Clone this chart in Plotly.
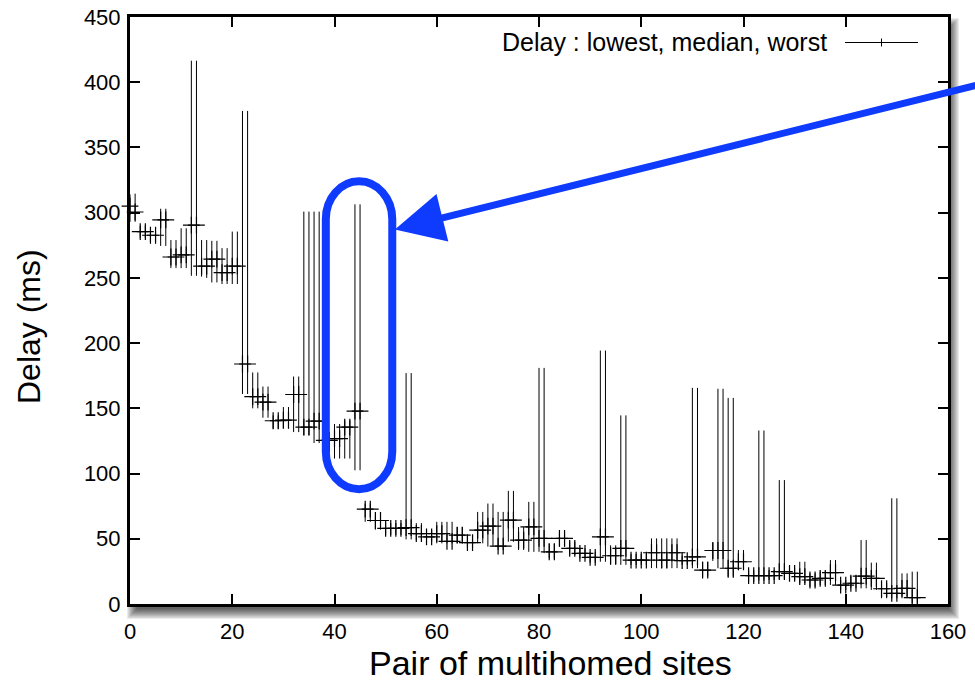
import plotly.graph_objects as go

# ---------------- data ----------------
pair_index = list(range(155))

delay_lowest = [
    293, 293, 281, 281, 278, 278, 274.5, 274.5, 257.5, 257.5,
    257.5, 257.5, 251.6, 251.6, 251, 250, 246.5, 246.5, 245.3, 245.3,
    245.3, 245.3, 161, 161, 150, 150, 142.8, 142.8, 134.4, 134.4,
    134.4, 134.4, 131.8, 131.8, 129.3, 129.3, 123.4, 123.4, 116.5, 116.5,
    111.5, 111.5, 111.5, 111.5, 102.5, 102.5, 63, 63, 57, 57,
    53, 53, 53, 53, 49.5, 49.5, 49, 49, 47.7, 47.7,
    46.5, 46.5, 46.5, 46.5, 46.5, 46.5, 42.7, 42.7, 46.5, 46.5,
    44, 44, 41.4, 41.4, 47.7, 47.7, 41.4, 41.4, 40, 40,
    40, 39, 35, 35, 44, 44, 37.5, 37.5, 35, 35,
    31.7, 31.7, 32.4, 32.4, 30, 30, 30, 30, 30, 30,
    30, 30, 27.5, 27.5, 27.5, 27.5, 27.5, 27.5, 30, 30,
    27.4, 27.4, 21, 21, 33, 27.4, 27.4, 20, 20, 26,
    26, 17, 17, 18, 18, 18.4, 18.4, 19.2, 19.2, 18,
    18, 15.9, 15.9, 13.3, 13.3, 14.6, 14.6, 14.6, 14.6, 10.8,
    10.8, 12, 12, 12, 12, 10.8, 10.8, 4.4, 4.4, 4.4,
    4.4, 4.4, 4.4, 0.6, 0.6,
]

delay_median = [
    305, 300.5, 285.5, 285.5, 282.7, 282.7, 294.4, 294.4, 266, 266,
    267.6, 267.6, 290.4, 290.4, 259, 259, 264.4, 264.4, 254, 254,
    259, 259, 184, 184, 159, 159, 154.7, 154.7, 140.5, 140.5,
    141, 141, 160.6, 160.6, 135.6, 135.6, 140.2, 140.2, 125.5, 125.5,
    126.8, 126.8, 135.6, 135.6, 147.9, 147.9, 72.7, 72.7, 64, 64,
    58, 58, 58, 58, 58.5, 58.5, 54, 54, 51.5, 51.5,
    54, 54, 48, 48, 52.8, 52.8, 47, 47, 56.7, 56.7,
    59.7, 59.7, 44.4, 44.4, 64.3, 64.3, 49, 49, 59.2, 59.2,
    50.3, 50.3, 40, 40, 50.3, 50.3, 42.7, 42.7, 38.8, 38.8,
    35.8, 35.8, 51.5, 51.5, 37, 37, 42.7, 42.7, 33.7, 33.7,
    33.7, 33.7, 39.3, 39.3, 33.7, 33.7, 39.3, 39.3, 33.2, 33.2,
    36.2, 36.2, 26, 26, 41, 41, 41, 27.4, 27.4, 32.4,
    32.4, 21.7, 21.7, 21.7, 21.7, 21.7, 21.7, 24.8, 24.8, 23.5,
    23.5, 21, 21, 18.4, 18.4, 19.7, 19.7, 24, 24, 14.4,
    14.4, 15.9, 15.9, 21.3, 21.3, 19.7, 19.7, 11.7, 11.7, 8.2,
    8.2, 12, 12, 4.9, 4.9,
]

delay_worst = [
    314, 314.6, 290, 290, 286, 286, 303, 303, 279, 279,
    288, 288, 416.5, 416.5, 279, 279, 278.4, 278.4, 272.8, 272.8,
    285.5, 285.5, 378, 378, 177.5, 177.5, 166.7, 166.7, 144.6, 144.6,
    151, 151, 174.4, 174.4, 300.8, 300.8, 300.8, 300.8, 131.8, 131.8,
    138, 138, 140.7, 140.7, 306.4, 306.4, 77, 77, 68, 67,
    62, 62, 62, 62, 177, 177, 62, 62, 56.6, 56.6,
    63, 63, 63, 63, 59, 59, 52.8, 52.8, 70.6, 70.6,
    77, 77, 70.6, 70.6, 86.7, 86.7, 59, 59, 78.3, 78.3,
    181, 181, 46.5, 46.5, 54.6, 54.6, 47.7, 47.7, 42.7, 42.7,
    40, 40, 194.3, 194.3, 45, 45, 144.6, 144.6, 38.3, 38.3,
    38.3, 38.3, 50.3, 50.3, 50.3, 50.3, 50.3, 50.3, 37, 37,
    165.7, 165.7, 32.4, 32.4, 47, 165, 165, 158, 158, 41.4,
    41.4, 26, 26, 133, 133, 26, 26, 95, 95, 27.6,
    27.6, 32.4, 32.4, 23.5, 23.5, 25, 25, 33.7, 33.7, 18.4,
    18.4, 21.5, 21.5, 49, 49, 31.7, 31.7, 15.9, 15.9, 81,
    81, 23.5, 23.5, 24.8, 24.8,
]

x_ticks = [0, 20, 40, 60, 80, 100, 120, 140, 160]
y_ticks = [0, 50, 100, 150, 200, 250, 300, 350, 400, 450]

x_title = "Pair of multihomed sites"
y_title = "Delay (ms)"
legend_label = "Delay : lowest, median, worst"

# ---------------- styling / layout constants ----------------
W, H = 975, 684
L, R, T, B = 130, 948, 17, 604
FONT = "Liberation Sans, Arial, Helvetica, sans-serif"
BLUE = "#0f3bff"


def px(xp):
    return (xp - L) / (R - L)


def py(yp):
    return (B - yp) / (B - T)


err_plus = [w - m for w, m in zip(delay_worst, delay_median)]
err_minus = [m - lo for m, lo in zip(delay_median, delay_lowest)]

fig = go.Figure()
fig.add_trace(go.Scatter(
    x=pair_index,
    y=delay_median,
    mode="markers",
    marker=dict(symbol="cross-thin", size=12, color="black",
                line=dict(width=1.2, color="black")),
    error_y=dict(type="data", symmetric=False, array=err_plus,
                 arrayminus=err_minus, thickness=1, width=0, color="black"),
    showlegend=False,
    cliponaxis=False,
    hoverinfo="skip",
))

shapes = []
# soft drop shadow below/right of the plot frame
for k in range(11):
    e = k - 3
    shapes.append(dict(
        type="rect", xref="paper", yref="paper", layer="below",
        x0=px(L + 4 - e), x1=px(R + 4 + e),
        y0=py(B + 8 + e), y1=py(T + 8 - e),
        line=dict(width=0), fillcolor="rgba(0,0,0,0.08)",
    ))
shapes.append(dict(
    type="rect", xref="paper", yref="paper", layer="below",
    x0=0, x1=1, y0=0, y1=1, line=dict(width=0), fillcolor="white",
))

# highlight pill (data coordinates)
xl, xr, yt, yb = 38.3, 51.3, 324.0, 88.0
rx = (xr - xl) / 2
ry = 29.0
xc = xl + rx
k_ = 0.5523
path = (
    f"M {xl},{yb + ry} L {xl},{yt - ry} "
    f"C {xl},{yt - ry + k_ * ry} {xc - k_ * rx},{yt} {xc},{yt} "
    f"C {xc + k_ * rx},{yt} {xr},{yt - ry + k_ * ry} {xr},{yt - ry} "
    f"L {xr},{yb + ry} "
    f"C {xr},{yb + ry - k_ * ry} {xc + k_ * rx},{yb} {xc},{yb} "
    f"C {xc - k_ * rx},{yb} {xl},{yb + ry - k_ * ry} {xl},{yb + ry} Z"
)
shapes.append(dict(type="path", xref="x", yref="y", path=path,
                   line=dict(color=BLUE, width=8), layer="above"))

# legend sample (line with a small tick)
shapes.append(dict(type="line", xref="paper", yref="paper",
                   x0=px(845), x1=px(918), y0=py(42.5), y1=py(42.5),
                   line=dict(color="black", width=1)))
shapes.append(dict(type="line", xref="paper", yref="paper",
                   x0=px(881.5), x1=px(881.5), y0=py(38.5), y1=py(46.5),
                   line=dict(color="black", width=1)))

annotations = [
    dict(xref="paper", yref="paper", x=px(829), y=py(42.5),
         xanchor="right", yanchor="middle", text=legend_label,
         showarrow=False, font=dict(family=FONT, size=25, color="black")),
    dict(xref="paper", yref="paper", x=px(550), y=py(663),
         xanchor="center", yanchor="middle", text=x_title,
         showarrow=False, font=dict(family=FONT, size=34, color="black")),
    dict(xref="paper", yref="paper", x=px(29), y=py(327),
         xanchor="center", yanchor="middle", text=y_title, textangle=-90,
         showarrow=False, font=dict(family=FONT, size=32, color="black")),
    # arrow pointing at the highlighted pair
    dict(xref="x", yref="y", x=51.8, y=287,
         axref="x", ayref="y", ax=168, ay=400,
         text="", showarrow=True, arrowhead=2, arrowsize=1.4,
         arrowwidth=7, arrowcolor=BLUE, standoff=0),
]

axis_common = dict(
    showline=True, linewidth=3, linecolor="black", mirror="allticks",
    ticks="inside", ticklen=10, tickwidth=1.5, tickcolor="black",
    showgrid=False, zeroline=False, automargin=False,
    tickfont=dict(family=FONT, size=22, color="black"),
)

fig.update_layout(
    width=W, height=H,
    margin=dict(l=L, r=W - R, t=T, b=H - B, pad=0, autoexpand=False),
    paper_bgcolor="white", plot_bgcolor="white",
    xaxis=dict(range=[0, 160], tickvals=x_ticks, ticktext=[str(v) for v in x_ticks],
               ticklabelstandoff=6, **axis_common),
    yaxis=dict(range=[0, 450], tickvals=y_ticks, ticktext=[str(v) for v in y_ticks],
               ticklabelstandoff=2, **axis_common),
    shapes=shapes,
    annotations=annotations,
    showlegend=False,
)

fig.write_html("out.html")
